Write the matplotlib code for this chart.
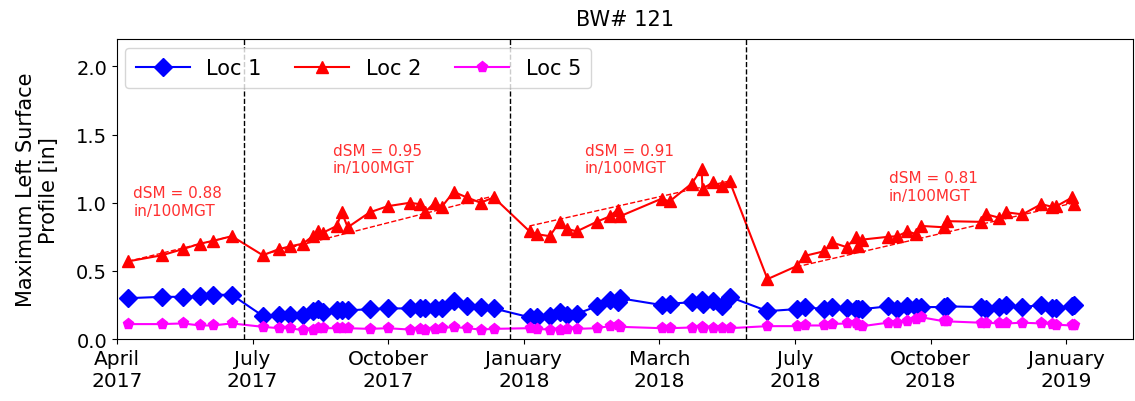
import matplotlib
matplotlib.use("Agg")
import matplotlib.pyplot as plt

# x is in "quarter" units: tick i sits at i (April 2017 ... January 2019)
tick_labels = ["April\n2017", "July\n2017", "October\n2017", "January\n2018",
               "March\n2018", "July\n2018", "October\n2018", "January\n2019"]

x = [0.081, 0.332, 0.486, 0.612, 0.707, 0.847,
     1.076, 1.194, 1.275, 1.371, 1.444, 1.481, 1.518, 1.621, 1.658, 1.702, 1.864,
     1.997, 2.159, 2.233, 2.270, 2.343, 2.395, 2.483, 2.579, 2.682, 2.778,
     3.043, 3.095, 3.191, 3.265, 3.316, 3.390, 3.537, 3.633, 3.692, 3.707, 4.016,
     4.075, 4.237, 4.311, 4.318, 4.392, 4.458, 4.517,
     4.797, 5.011, 5.070, 5.217, 5.269, 5.380, 5.453, 5.461, 5.497, 5.682, 5.755,
     5.829, 5.895, 5.932, 6.102, 6.124, 6.374, 6.411, 6.507, 6.559, 6.677, 6.816,
     6.898, 6.927, 7.045, 7.060]

loc1 = [0.30, 0.31, 0.31, 0.315, 0.325, 0.325,
        0.17, 0.175, 0.175, 0.18, 0.205, 0.22, 0.20, 0.21, 0.21, 0.21, 0.22,
        0.225, 0.225, 0.225, 0.225, 0.225, 0.225, 0.28, 0.24, 0.235, 0.225,
        0.16, 0.165, 0.17, 0.20, 0.18, 0.185, 0.24, 0.29, 0.27, 0.30, 0.25,
        0.26, 0.27, 0.29, 0.26, 0.28, 0.24, 0.31,
        0.205, 0.22, 0.235, 0.22, 0.235, 0.225, 0.22, 0.22, 0.22, 0.24, 0.22,
        0.24, 0.235, 0.235, 0.235, 0.24, 0.235, 0.22, 0.235, 0.25, 0.235, 0.25,
        0.225, 0.23, 0.24, 0.25]

loc2 = [0.57, 0.615, 0.66, 0.70, 0.72, 0.755,
        0.615, 0.66, 0.68, 0.70, 0.755, 0.79, 0.78, 0.83, 0.93, 0.82, 0.93,
        0.975, 1.00, 0.99, 0.93, 1.00, 0.97, 1.08, 1.04, 1.00, 1.04,
        0.79, 0.77, 0.755, 0.86, 0.81, 0.79, 0.86, 0.90, 0.95, 0.90, 1.03,
        1.01, 1.14, 1.245, 1.10, 1.15, 1.12, 1.16,
        0.44, 0.535, 0.61, 0.645, 0.71, 0.675, 0.75, 0.68, 0.73, 0.75, 0.755,
        0.79, 0.77, 0.83, 0.82, 0.865, 0.86, 0.915, 0.89, 0.93, 0.915, 0.99,
        0.97, 0.975, 1.04, 0.99]

loc5 = [0.11, 0.11, 0.115, 0.10, 0.10, 0.115,
        0.09, 0.08, 0.08, 0.065, 0.07, 0.08, 0.08, 0.08, 0.085, 0.08, 0.075,
        0.08, 0.07, 0.075, 0.07, 0.075, 0.08, 0.09, 0.08, 0.07, 0.075,
        0.08, 0.075, 0.07, 0.07, 0.075, 0.075, 0.08, 0.095, 0.10, 0.09, 0.08,
        0.08, 0.085, 0.09, 0.085, 0.085, 0.08, 0.08,
        0.095, 0.095, 0.10, 0.10, 0.11, 0.115, 0.115, 0.10, 0.095, 0.12, 0.12,
        0.13, 0.15, 0.16, 0.13, 0.13, 0.12, 0.12, 0.115, 0.115, 0.12, 0.115,
        0.11, 0.105, 0.10, 0.10]

# grinding dates (vertical dashed lines)
grind_x = [0.936, 2.896, 4.635]

# Loc 2 wear-rate trend lines per period
trend_x0 = [0.081, 1.076, 3.043, 5.011]
trend_x1 = [0.847, 2.778, 4.517, 7.060]
trend_y0 = [0.57, 0.62, 0.83, 0.53]
trend_y1 = [0.755, 1.05, 1.16, 1.00]
dsm = [0.88, 0.95, 0.91, 0.81]
dsm_pos = [(0.45, 1.01), (1.92, 1.32), (3.78, 1.32), (6.02, 1.12)]

fig = plt.figure(figsize=(11.35, 4.02), dpi=100)
ax = fig.add_axes([0.103, 0.154, 0.895, 0.746])

ax.plot(x, loc1, color="blue", marker="D", ms=9, lw=1.5, label="Loc 1")
ax.plot(x, loc2, color="red", marker="^", ms=9, lw=1.5, label="Loc 2")
ax.plot(x, loc5, color="magenta", marker="p", ms=8, lw=1.5, label="Loc 5")

for x0, x1, y0, y1 in zip(trend_x0, trend_x1, trend_y0, trend_y1):
    ax.plot([x0, x1], [y0, y1], "--", color="red", lw=1)

for g in grind_x:
    ax.axvline(g, color="black", ls="--", lw=1)

for d, (tx, ty) in zip(dsm, dsm_pos):
    ax.text(tx, ty, "dSM = %.2f\nin/100MGT" % d, color="#ff3030", fontsize=11,
            ha="center", va="center", multialignment="left")

ax.set_xlim(0, 7.49)
ax.set_ylim(0, 2.2)
ax.set_xticks(range(len(tick_labels)))
ax.set_xticklabels(tick_labels, fontsize=14.5)
ax.set_yticks([0, 0.5, 1.0, 1.5, 2.0])
ax.tick_params(axis="y", labelsize=14)
ax.set_ylabel("Maximum Left Surface\nProfile [in]", fontsize=15, labelpad=12)
ax.set_title("BW# 121", fontsize=15, pad=10)
ax.legend(loc="upper left", ncol=3, fontsize=15, handlelength=2.6,
          columnspacing=1.6, borderaxespad=0.4, borderpad=0.5)

fig.savefig("out.png", dpi=100)
